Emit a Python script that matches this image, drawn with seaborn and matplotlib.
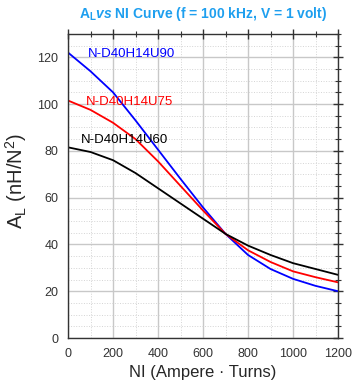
import numpy as np
import pandas as pd
import matplotlib
matplotlib.use("Agg")
import matplotlib.pyplot as plt
import seaborn as sns
from matplotlib.ticker import MultipleLocator

ni = [0, 100, 200, 300, 400, 500, 600, 700, 800, 900, 1000, 1100, 1200]
u90 = [122, 114, 105, 93, 80.5, 68, 55.8, 44.5, 35.5, 29.5, 25.3, 22.3, 20]
u75 = [101.5, 97.5, 92, 85, 75.5, 65, 54.5, 44.5, 37.5, 32.5, 28.5, 26, 23.8]
u60 = [81.5, 79.5, 76, 70.5, 64, 57.5, 51, 44.5, 39.5, 35.5, 32, 29.5, 27]
names = ["N-D40H14U90", "N-D40H14U75", "N-D40H14U60"]
colors = ["#0000FF", "#FF0000", "#000000"]

df = pd.concat([
    pd.DataFrame({"NI": ni, "AL": v, "core": n})
    for v, n in zip([u90, u75, u60], names)
])

sns.set_style("white")
plt.rcParams["font.family"] = ["Liberation Sans", "DejaVu Sans"]
plt.rcParams["mathtext.fontset"] = "custom"
plt.rcParams["mathtext.rm"] = "Liberation Sans"
plt.rcParams["mathtext.it"] = "Liberation Sans:italic"
plt.rcParams["mathtext.bf"] = "Liberation Sans:bold"
plt.rcParams["mathtext.bfit"] = "Liberation Sans:bold:italic"

fig = plt.figure(figsize=(3.6, 3.89), dpi=100)
ax = fig.add_axes([0.189, 0.131, 0.75, 0.782])

sns.lineplot(data=df, x="NI", y="AL", hue="core", palette=dict(zip(names, colors)),
             ax=ax, legend=False, linewidth=1.3)

ax.set_xlim(0, 1200)
ax.set_ylim(0, 130)
ax.xaxis.set_major_locator(MultipleLocator(200))
ax.xaxis.set_minor_locator(MultipleLocator(100))
ax.yaxis.set_major_locator(MultipleLocator(20))
ax.yaxis.set_minor_locator(MultipleLocator(5))
ax.grid(which="major", color="#c8c8c8", linewidth=1.0, linestyle="-")
ax.grid(which="minor", color="#d4d4d4", linewidth=0.7, linestyle=":")
ax.set_axisbelow(True)
ax.tick_params(which="major", direction="inout", length=7, width=1, colors="#333333",
               labelsize=9, top=True, right=True, labelcolor="#333333")
ax.tick_params(which="minor", direction="inout", length=4, width=0.8, colors="#333333",
               top=True, right=True)
for s in ax.spines.values():
    s.set_color("#333333")
    s.set_linewidth(1.0)

ax.set_xlabel("NI (Ampere \u00b7 Turns)", fontsize=12, labelpad=4)
ax.set_ylabel(r"A$_\mathregular{L}$ (nH/N$^\mathregular{2}$)", fontsize=14.5)
ax.yaxis.set_label_coords(-0.145, 0.516)

ax.text(88, 121.2, names[0], color=colors[0], fontsize=9.5, va="center", ha="left")
ax.text(78, 100.7, names[1], color=colors[1], fontsize=9.5, va="center", ha="left")
ax.text(56, 84.5, names[2], color=colors[2], fontsize=9.5, va="center", ha="left")

fig.text(0.564, 0.964, r"$\mathbf{A_L}\mathbfit{vs}$ NI Curve (f = 100 kHz, V = 1 volt)",
         color="#1E9FEF", fontsize=10, fontweight="bold", ha="center", va="center")

fig.savefig("out.png", dpi=100)
